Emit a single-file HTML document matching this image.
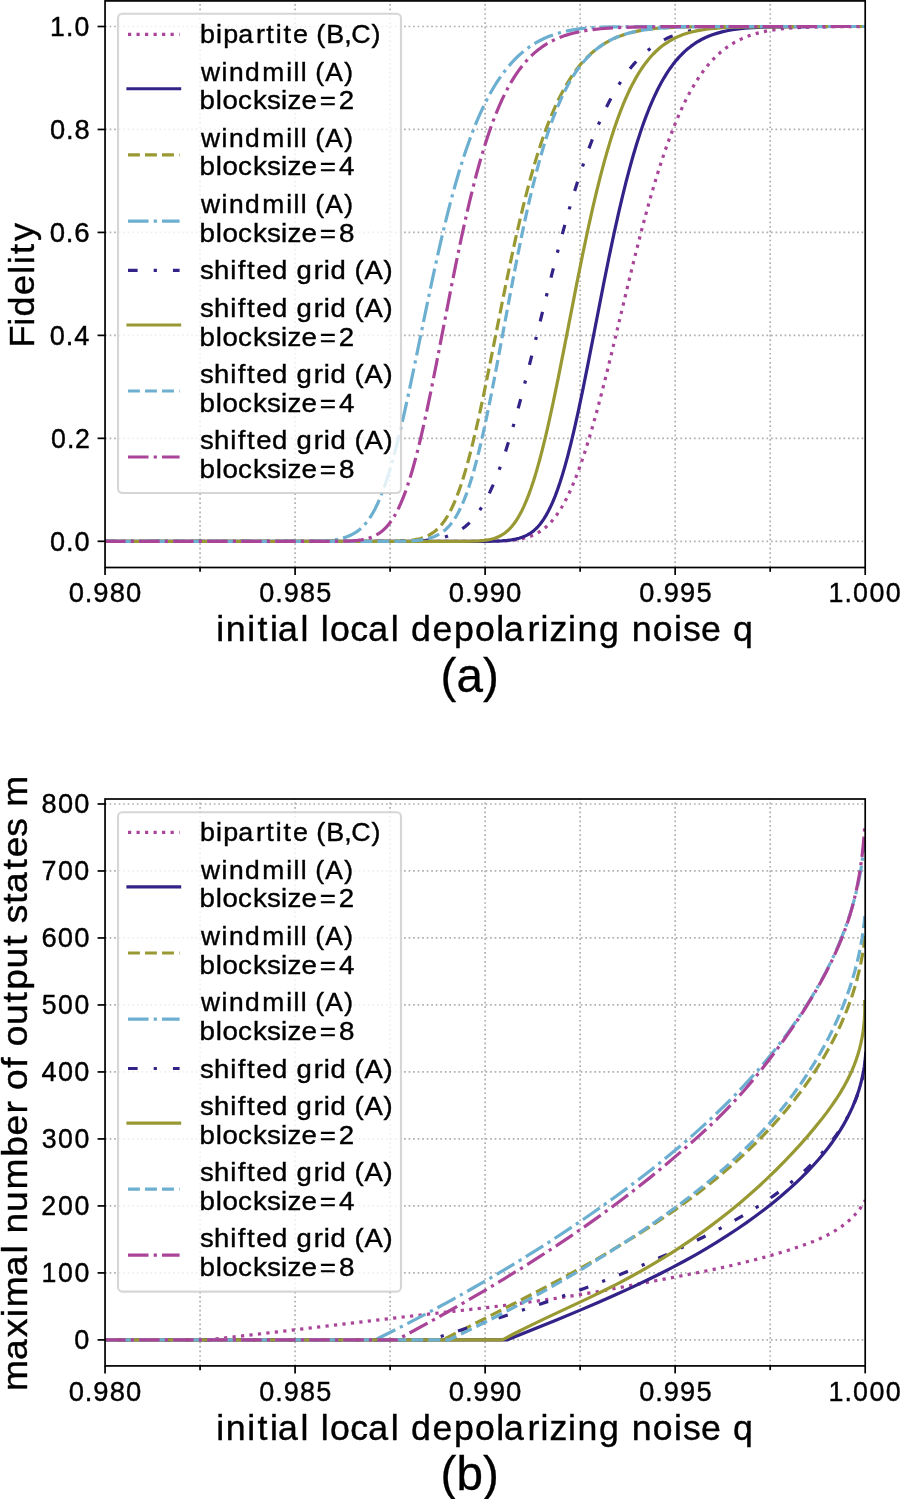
<!DOCTYPE html>
<html lang="en"><head><meta charset="utf-8"><title>Fidelity and output states vs noise</title>
<style>html,body{margin:0;padding:0;background:#fff}body{width:900px;height:1499px;overflow:hidden;font-family:"Liberation Sans",sans-serif}svg{display:block;will-change:transform}text{stroke:#000;stroke-width:0.4px}text.p{stroke-width:0.35px}</style>
</head><body>
<svg width="900" height="1499" viewBox="0 0 900 1499" font-family="'Liberation Sans', sans-serif">
<rect width="900" height="1499" fill="#fff"/>
<defs><clipPath id="ca"><rect x="105.05" y="0.90" width="760.15" height="566.60"/></clipPath><clipPath id="cb"><rect x="105.05" y="799.00" width="760.15" height="566.90"/></clipPath></defs>
<g stroke="#b0b0b0" stroke-width="1.71" stroke-dasharray="1.71 2.82" fill="none">
<path d="M200.07,567.50 V0.90"/>
<path d="M295.09,567.50 V0.90"/>
<path d="M390.11,567.50 V0.90"/>
<path d="M485.13,567.50 V0.90"/>
<path d="M580.14,567.50 V0.90"/>
<path d="M675.16,567.50 V0.90"/>
<path d="M770.18,567.50 V0.90"/>
<path d="M105.05,541.30 H865.20"/>
<path d="M105.05,438.34 H865.20"/>
<path d="M105.05,335.38 H865.20"/>
<path d="M105.05,232.42 H865.20"/>
<path d="M105.05,129.46 H865.20"/>
<path d="M105.05,26.50 H865.20"/>
</g>
<g clip-path="url(#ca)" fill="none" stroke-width="3.21" stroke-linejoin="round">
<path d="M105.05,541.30 L484.05,541.27 L496.55,541.12 L504.55,540.84 L510.55,540.42 L515.55,539.87 L520.05,539.15 L524.05,538.29 L527.55,537.31 L530.55,536.29 L533.55,535.06 L536.55,533.58 L539.05,532.14 L541.55,530.49 L544.05,528.62 L546.55,526.50 L549.05,524.11 L551.55,521.43 L554.05,518.45 L556.55,515.15 L559.05,511.51 L561.55,507.51 L564.05,503.16 L566.55,498.43 L569.05,493.32 L572.05,486.67 L575.05,479.47 L578.05,471.70 L581.05,463.38 L584.55,453.00 L588.05,441.91 L592.05,428.43 L596.05,414.17 L600.55,397.30 L606.05,375.71 L613.05,347.11 L630.05,276.20 L636.55,249.89 L642.05,228.45 L647.05,209.80 L651.55,193.78 L656.05,178.56 L660.05,165.75 L664.05,153.63 L668.05,142.22 L671.55,132.82 L675.05,123.97 L678.55,115.65 L682.05,107.87 L685.55,100.60 L689.05,93.83 L692.55,87.55 L696.05,81.73 L699.55,76.36 L703.05,71.42 L706.55,66.88 L710.05,62.71 L713.55,58.91 L717.05,55.45 L720.55,52.29 L724.05,49.43 L727.55,46.85 L731.05,44.51 L734.55,42.41 L738.55,40.27 L742.55,38.38 L746.55,36.72 L751.05,35.09 L755.55,33.70 L760.55,32.38 L766.05,31.19 L772.05,30.13 L778.55,29.23 L785.55,28.49 L793.55,27.88 L803.55,27.38 L816.55,26.99 L835.05,26.71 L865.05,26.55" stroke="#AA4499" stroke-dasharray="3.21 5.30"/>
<path d="M105.05,541.30 L483.05,541.27 L494.55,541.12 L501.55,540.84 L507.05,540.41 L511.55,539.84 L515.55,539.11 L519.05,538.25 L522.05,537.31 L524.55,536.33 L527.05,535.14 L529.55,533.71 L532.05,532.00 L534.05,530.40 L536.05,528.58 L538.05,526.52 L540.05,524.18 L542.05,521.56 L544.05,518.64 L546.05,515.39 L548.05,511.80 L550.05,507.85 L552.55,502.38 L555.05,496.32 L557.55,489.63 L560.05,482.33 L562.55,474.39 L565.05,465.85 L568.05,454.80 L571.05,442.93 L574.55,428.14 L578.55,410.11 L583.05,388.65 L588.55,361.19 L603.55,284.28 L609.05,257.03 L614.05,233.32 L618.55,213.05 L622.55,196.02 L626.05,181.91 L629.55,168.58 L633.05,156.05 L636.55,144.31 L640.05,133.37 L643.05,124.60 L646.05,116.40 L649.05,108.73 L652.05,101.59 L655.05,94.94 L658.05,88.78 L661.05,83.08 L664.05,77.81 L667.05,72.95 L670.05,68.48 L673.05,64.37 L676.05,60.61 L679.05,57.17 L682.05,54.02 L685.05,51.15 L688.05,48.55 L691.05,46.18 L694.55,43.69 L698.05,41.48 L701.55,39.51 L705.05,37.78 L709.05,36.04 L713.05,34.54 L717.55,33.10 L722.05,31.88 L727.05,30.77 L732.55,29.78 L738.55,28.93 L745.05,28.25 L753.05,27.66 L763.05,27.19 L776.55,26.85 L797.05,26.62 L842.55,26.51 L865.05,26.50" stroke="#332288" stroke-linecap="square"/>
<path d="M105.05,541.30 L388.05,541.27 L398.55,541.11 L405.05,540.83 L410.05,540.40 L414.05,539.86 L417.55,539.20 L420.55,538.44 L423.55,537.48 L426.05,536.50 L428.55,535.33 L431.05,533.94 L433.55,532.28 L435.55,530.73 L437.55,528.96 L439.55,526.94 L441.55,524.66 L443.55,522.09 L445.55,519.22 L447.55,516.01 L449.55,512.47 L451.55,508.56 L453.55,504.28 L456.05,498.38 L458.55,491.87 L461.05,484.73 L463.55,476.97 L466.05,468.60 L469.05,457.76 L472.05,446.11 L475.55,431.57 L479.55,413.87 L484.05,392.80 L490.05,363.40 L503.55,295.70 L509.55,266.60 L514.55,243.40 L519.05,223.55 L523.05,206.83 L527.05,191.02 L530.55,177.98 L534.05,165.68 L537.55,154.12 L541.05,143.30 L544.55,133.19 L548.05,123.78 L551.55,115.04 L554.55,108.07 L557.55,101.54 L560.55,95.45 L563.55,89.78 L566.55,84.49 L569.55,79.58 L572.55,75.02 L575.55,70.80 L578.55,66.89 L581.55,63.27 L585.05,59.40 L588.55,55.87 L592.05,52.67 L595.55,49.77 L599.05,47.14 L602.55,44.77 L606.05,42.63 L610.05,40.44 L614.05,38.51 L618.05,36.81 L622.55,35.14 L627.05,33.70 L632.05,32.34 L637.55,31.10 L643.05,30.09 L649.05,29.21 L655.55,28.47 L663.05,27.86 L672.55,27.35 L684.55,26.97 L702.05,26.70 L734.05,26.54 L865.05,26.50" stroke="#999933" stroke-dasharray="11.88 5.14"/>
<path d="M105.05,541.30 L305.55,541.27 L317.05,541.11 L324.05,540.84 L329.55,540.43 L334.05,539.89 L338.05,539.21 L341.55,538.42 L345.05,537.39 L348.05,536.30 L351.05,534.99 L354.05,533.42 L356.55,531.86 L359.05,530.01 L361.05,528.31 L363.05,526.37 L365.05,524.19 L367.05,521.75 L369.05,519.01 L371.05,515.97 L373.05,512.60 L375.05,508.90 L377.55,503.77 L380.05,498.06 L382.55,491.76 L385.05,484.86 L387.55,477.37 L390.05,469.28 L393.05,458.81 L396.05,447.57 L399.55,433.53 L403.55,416.43 L408.05,396.08 L414.05,367.67 L428.05,299.74 L434.05,271.59 L439.05,249.12 L443.55,229.88 L447.55,213.62 L451.55,198.23 L455.55,183.72 L459.05,171.76 L462.55,160.48 L466.05,149.88 L469.55,139.93 L473.05,130.62 L476.55,121.93 L480.05,113.83 L483.55,106.28 L487.05,99.28 L490.55,92.77 L494.05,86.75 L497.55,81.18 L501.05,76.03 L504.55,71.27 L508.05,66.89 L511.55,62.86 L515.05,59.16 L518.55,55.76 L522.05,52.65 L525.55,49.80 L529.05,47.20 L532.55,44.84 L536.55,42.40 L540.55,40.22 L544.55,38.28 L548.55,36.57 L553.05,34.87 L557.55,33.41 L562.55,32.03 L567.55,30.88 L573.05,29.84 L579.05,28.95 L585.05,28.27 L592.55,27.68 L601.55,27.22 L614.05,26.87 L633.05,26.63 L673.55,26.51 L865.05,26.50" stroke="#6CAFD0" stroke-dasharray="20.54 5.14 3.21 5.14"/>
<path d="M105.05,541.30 L396.55,541.27 L410.55,541.11 L419.05,540.82 L425.55,540.40 L431.05,539.84 L435.55,539.17 L439.55,538.40 L443.55,537.40 L447.05,536.33 L450.55,535.03 L454.05,533.49 L457.05,531.95 L460.05,530.20 L462.55,528.55 L465.05,526.69 L467.55,524.58 L470.05,522.22 L472.55,519.57 L475.05,516.62 L477.55,513.36 L480.05,509.75 L482.55,505.80 L485.05,501.47 L487.55,496.77 L490.05,491.69 L493.05,485.06 L496.05,477.87 L499.05,470.11 L502.05,461.79 L505.55,451.41 L509.05,440.33 L513.05,426.87 L517.55,410.83 L522.55,392.07 L528.55,368.55 L538.05,330.03 L549.05,285.30 L555.55,259.64 L561.05,238.70 L566.05,220.44 L570.55,204.71 L575.05,189.72 L579.55,175.49 L583.55,163.51 L587.55,152.16 L591.55,141.45 L595.55,131.37 L599.05,123.07 L602.55,115.23 L606.05,107.86 L609.55,100.94 L613.05,94.46 L616.55,88.40 L620.05,82.74 L623.55,77.48 L627.05,72.60 L630.55,68.08 L634.05,63.90 L637.55,60.05 L641.05,56.51 L644.55,53.26 L648.05,50.29 L651.55,47.58 L655.05,45.12 L658.55,42.89 L662.55,40.61 L666.55,38.58 L670.55,36.79 L674.55,35.22 L679.05,33.69 L683.55,32.39 L688.05,31.29 L693.05,30.31 L698.55,29.46 L705.05,28.69 L712.55,28.05 L722.05,27.50 L734.05,27.08 L750.55,26.77 L777.55,26.58 L858.05,26.50 L865.05,26.50" stroke="#332288" stroke-dasharray="9.63 16.05 3.21 16.05"/>
<path d="M105.05,541.30 L464.05,541.27 L473.55,541.12 L479.55,540.85 L484.05,540.45 L487.55,539.96 L491.05,539.26 L494.05,538.45 L496.55,537.59 L499.05,536.51 L501.55,535.20 L503.55,533.95 L505.55,532.49 L507.55,530.82 L509.55,528.91 L511.55,526.73 L513.55,524.28 L515.55,521.52 L517.55,518.44 L519.55,515.03 L521.55,511.27 L523.55,507.14 L526.05,501.46 L528.55,495.17 L531.05,488.27 L533.55,480.76 L536.05,472.64 L539.05,462.11 L542.05,450.76 L545.55,436.54 L549.05,421.37 L553.05,403.02 L558.05,378.87 L564.55,346.11 L577.05,282.16 L583.05,252.51 L588.05,228.89 L592.55,208.70 L596.55,191.71 L600.05,177.64 L603.55,164.34 L607.05,151.83 L610.55,140.13 L614.05,129.22 L617.05,120.49 L620.05,112.33 L623.05,104.72 L626.05,97.64 L629.05,91.07 L632.05,85.00 L635.05,79.39 L638.05,74.23 L641.05,69.49 L644.05,65.14 L647.05,61.17 L650.05,57.54 L653.05,54.25 L656.05,51.25 L659.05,48.53 L662.05,46.08 L665.05,43.86 L668.55,41.56 L672.05,39.52 L675.55,37.73 L679.05,36.16 L683.05,34.60 L687.05,33.27 L691.55,32.01 L696.55,30.85 L702.05,29.84 L708.05,28.97 L714.55,28.28 L722.05,27.71 L731.55,27.24 L744.55,26.88 L764.05,26.64 L804.05,26.52 L865.05,26.50" stroke="#999933" stroke-linecap="square"/>
<path d="M105.05,541.30 L395.05,541.27 L406.05,541.12 L412.55,540.84 L417.55,540.45 L421.55,539.95 L425.05,539.33 L428.55,538.51 L431.55,537.59 L434.55,536.45 L437.05,535.30 L439.55,533.95 L442.05,532.37 L444.05,530.88 L446.05,529.17 L448.05,527.22 L450.05,525.00 L452.05,522.49 L454.05,519.66 L456.05,516.50 L458.05,512.98 L460.05,509.07 L462.05,504.77 L464.05,500.05 L466.55,493.55 L469.05,486.37 L471.55,478.50 L474.05,469.94 L476.55,460.70 L479.55,448.75 L482.55,435.93 L486.05,419.95 L490.05,400.55 L495.05,374.98 L503.05,332.31 L511.55,286.87 L517.05,258.52 L521.55,236.36 L525.55,217.63 L529.55,199.92 L533.05,185.31 L536.55,171.56 L540.05,158.68 L543.55,146.67 L546.55,137.05 L549.55,128.05 L552.55,119.65 L555.55,111.81 L558.55,104.53 L561.55,97.78 L564.55,91.52 L567.55,85.74 L570.55,80.41 L573.55,75.49 L576.55,70.97 L579.55,66.81 L582.55,63.00 L585.55,59.51 L588.55,56.31 L591.55,53.39 L594.55,50.72 L598.05,47.91 L601.55,45.38 L605.05,43.12 L608.55,41.11 L612.55,39.06 L616.55,37.28 L620.55,35.72 L625.05,34.20 L629.55,32.90 L634.55,31.69 L640.05,30.59 L646.05,29.63 L652.55,28.81 L659.55,28.16 L668.05,27.61 L679.05,27.16 L694.05,26.82 L717.55,26.60 L773.55,26.51 L865.05,26.50" stroke="#6CAFD0" stroke-dasharray="11.88 5.14"/>
<path d="M105.05,541.30 L336.05,541.27 L346.05,541.12 L352.55,540.84 L357.55,540.41 L361.55,539.86 L365.05,539.17 L368.05,538.38 L371.05,537.38 L373.55,536.35 L376.05,535.11 L378.55,533.65 L380.55,532.28 L382.55,530.71 L384.55,528.91 L386.55,526.86 L388.55,524.55 L390.55,521.94 L392.55,519.03 L394.55,515.79 L396.55,512.20 L398.55,508.24 L400.55,503.91 L403.05,497.95 L405.55,491.36 L408.05,484.13 L410.55,476.27 L413.05,467.78 L416.05,456.78 L419.05,444.94 L422.55,430.14 L426.05,414.39 L430.55,392.99 L436.05,365.51 L451.05,288.26 L456.55,260.85 L461.05,239.35 L465.55,218.88 L469.55,201.66 L473.05,187.41 L476.55,173.96 L480.05,161.30 L483.55,149.46 L487.05,138.41 L490.05,129.57 L493.05,121.29 L496.05,113.56 L499.05,106.35 L502.05,99.64 L505.05,93.42 L508.05,87.65 L511.05,82.31 L514.05,77.39 L517.05,72.84 L520.05,68.66 L523.05,64.81 L526.05,61.28 L529.05,58.04 L532.05,55.08 L535.05,52.37 L538.55,49.50 L542.05,46.92 L545.55,44.60 L549.05,42.53 L553.05,40.42 L557.05,38.57 L561.05,36.94 L565.55,35.36 L570.05,33.99 L575.05,32.70 L580.55,31.52 L586.55,30.46 L593.05,29.55 L600.55,28.74 L609.05,28.07 L619.05,27.53 L632.05,27.10 L650.05,26.78 L679.05,26.58 L760.55,26.50 L865.05,26.50" stroke="#AA4499" stroke-dasharray="20.54 5.14 3.21 5.14"/>
</g>
<rect x="118.0" y="13.70" width="283.00" height="479.30" rx="4.4" fill="#fff" fill-opacity="0.8" stroke="#ccc" stroke-opacity="0.8" stroke-width="2.14"/>
<path d="M128.0,34.30 H179.6" stroke="#AA4499" stroke-width="3.21" fill="none" stroke-dasharray="3.21 5.30"/>
<text transform="translate(201.40,43.30) scale(1.0158,1)" x="-1.47 14.35 21.62 36.29 53.64 63.97 73.26 80.92 90.10 105.19 113.09 122.91 140.55 147.64 167.37" font-size="26.47" fill="#000">bipartite (B,C)</text>
<path d="M128.0,88.75 H179.6" stroke="#332288" stroke-width="3.21" fill="none" stroke-linecap="square"/>
<text transform="translate(201.00,80.70) scale(0.9982,1)" x="-0.12 20.62 27.98 44.09 61.37 85.52 92.66 99.81 106.33 114.46 124.53 143.45" font-size="26.47" fill="#000">windmill (A)</text>
<text transform="translate(201.30,109.30) scale(1.0450,1)" x="-1.64 13.85 20.38 35.10 49.45 62.98 76.32 82.62 95.83 113.28 131.44" font-size="26.47" fill="#000">blocksize=2</text>
<path d="M128.0,154.90 H179.6" stroke="#999933" stroke-width="3.21" fill="none" stroke-dasharray="11.88 5.14"/>
<text transform="translate(201.00,146.85) scale(0.9982,1)" x="-0.12 20.62 27.98 44.09 61.37 85.52 92.66 99.81 106.33 114.46 124.53 143.45" font-size="26.47" fill="#000">windmill (A)</text>
<text transform="translate(201.30,175.45) scale(1.0487,1)" x="-1.66 13.79 20.28 34.95 49.25 62.74 76.04 82.31 95.46 112.85 131.27" font-size="26.47" fill="#000">blocksize=4</text>
<path d="M128.0,221.10 H179.6" stroke="#6CAFD0" stroke-width="3.21" fill="none" stroke-dasharray="20.54 5.14 3.21 5.14"/>
<text transform="translate(201.00,213.05) scale(0.9982,1)" x="-0.12 20.62 27.98 44.09 61.37 85.52 92.66 99.81 106.33 114.46 124.53 143.45" font-size="26.47" fill="#000">windmill (A)</text>
<text transform="translate(201.30,241.65) scale(1.0502,1)" x="-1.67 13.77 20.24 34.90 49.17 62.64 75.93 82.19 95.32 112.69 131.08" font-size="26.47" fill="#000">blocksize=8</text>
<path d="M128.0,270.40 H179.6" stroke="#332288" stroke-width="3.21" fill="none" stroke-dasharray="9.63 16.05 3.21 16.05"/>
<text transform="translate(201.40,279.40) scale(1.0392,1)" x="-1.34 12.03 27.73 35.08 43.90 52.79 68.05 83.41 91.61 108.11 117.64 124.35 139.70 147.31 156.84 175.22" font-size="26.47" fill="#000">shifted grid (A)</text>
<path d="M128.0,325.00 H179.6" stroke="#999933" stroke-width="3.21" fill="none" stroke-linecap="square"/>
<text transform="translate(201.40,316.95) scale(1.0392,1)" x="-1.34 12.03 27.73 35.08 43.90 52.79 68.05 83.41 91.61 108.11 117.64 124.35 139.70 147.31 156.84 175.22" font-size="26.47" fill="#000">shifted grid (A)</text>
<text transform="translate(201.30,345.55) scale(1.0450,1)" x="-1.64 13.85 20.38 35.10 49.45 62.98 76.32 82.62 95.83 113.28 131.44" font-size="26.47" fill="#000">blocksize=2</text>
<path d="M128.0,391.00 H179.6" stroke="#6CAFD0" stroke-width="3.21" fill="none" stroke-dasharray="11.88 5.14"/>
<text transform="translate(201.40,382.95) scale(1.0392,1)" x="-1.34 12.03 27.73 35.08 43.90 52.79 68.05 83.41 91.61 108.11 117.64 124.35 139.70 147.31 156.84 175.22" font-size="26.47" fill="#000">shifted grid (A)</text>
<text transform="translate(201.30,411.55) scale(1.0487,1)" x="-1.66 13.79 20.28 34.95 49.25 62.74 76.04 82.31 95.46 112.85 131.27" font-size="26.47" fill="#000">blocksize=4</text>
<path d="M128.0,457.00 H179.6" stroke="#AA4499" stroke-width="3.21" fill="none" stroke-dasharray="20.54 5.14 3.21 5.14"/>
<text transform="translate(201.40,448.95) scale(1.0392,1)" x="-1.34 12.03 27.73 35.08 43.90 52.79 68.05 83.41 91.61 108.11 117.64 124.35 139.70 147.31 156.84 175.22" font-size="26.47" fill="#000">shifted grid (A)</text>
<text transform="translate(201.30,477.55) scale(1.0502,1)" x="-1.67 13.77 20.24 34.90 49.17 62.64 75.93 82.19 95.32 112.69 131.08" font-size="26.47" fill="#000">blocksize=8</text>
<g stroke="#000" stroke-width="1.71" fill="none">
<path d="M105.05,567.50 v7.49"/>
<path d="M200.07,567.50 v4.28"/>
<path d="M295.09,567.50 v7.49"/>
<path d="M390.11,567.50 v4.28"/>
<path d="M485.13,567.50 v7.49"/>
<path d="M580.14,567.50 v4.28"/>
<path d="M675.16,567.50 v7.49"/>
<path d="M770.18,567.50 v4.28"/>
<path d="M865.20,567.50 v7.49"/>
<path d="M105.05,541.30 h-7.49"/>
<path d="M105.05,438.34 h-7.49"/>
<path d="M105.05,335.38 h-7.49"/>
<path d="M105.05,232.42 h-7.49"/>
<path d="M105.05,129.46 h-7.49"/>
<path d="M105.05,26.50 h-7.49"/>
<rect x="105.05" y="0.90" width="760.15" height="566.60" stroke-linejoin="miter"/>
</g>
<text transform="translate(51.03,550.80) scale(0.9829,1)" x="-1.09 15.22 23.85" font-size="27.63" fill="#000">0.0</text>
<text transform="translate(51.90,447.84) scale(0.9673,1)" x="-0.99 15.52 24.01" font-size="27.63" fill="#000">0.2</text>
<text transform="translate(50.77,344.88) scale(0.9829,1)" x="-1.09 15.22 23.85" font-size="27.63" fill="#000">0.4</text>
<text transform="translate(50.94,241.92) scale(0.9983,1)" x="-1.20 14.92 23.37" font-size="27.63" fill="#000">0.6</text>
<text transform="translate(51.08,138.96) scale(0.9877,1)" x="-1.13 15.12 23.70" font-size="27.63" fill="#000">0.8</text>
<text transform="translate(52.16,36.00) scale(0.9641,1)" x="-2.27 14.42 23.29" font-size="27.63" fill="#000">1.0</text>
<text transform="translate(69.96,602.20) scale(0.9919,1)" x="-1.15 15.04 23.49 40.05 56.54" font-size="27.63" fill="#000">0.980</text>
<text transform="translate(260.27,602.20) scale(0.9787,1)" x="-1.07 15.30 23.91 40.70 57.30" font-size="27.63" fill="#000">0.985</text>
<text transform="translate(450.04,602.20) scale(0.9969,1)" x="-1.19 14.95 23.33 39.73 56.21" font-size="27.63" fill="#000">0.990</text>
<text transform="translate(640.35,602.20) scale(0.9837,1)" x="-1.10 15.20 23.74 40.37 56.97" font-size="27.63" fill="#000">0.995</text>
<text transform="translate(830.68,602.20) scale(0.9722,1)" x="-2.32 14.27 23.04 39.86 56.68" font-size="27.63" fill="#000">1.000</text>
<text transform="translate(34.20,342.82) rotate(-90) scale(1.0251,1)" x="-4.50 16.61 25.70 46.76 67.41 76.67 86.73 99.28" font-size="35.12">Fidelity</text>
<text transform="translate(218.58,641.40) scale(1.0166,1)" x="-2.39 7.09 28.19 38.35 50.66 58.46 80.52 89.08 100.50 109.57 129.63 147.28 169.34 177.90 189.24 210.48 231.58 252.29 273.07 280.88 303.88 316.75 325.48 343.67 353.15 374.15 394.77 406.37 427.19 447.99 456.73 474.63 494.65 505.98" font-size="35.12" fill="#000">initial local depolarizing noise q</text>
<text class="p" x="469.7" y="691.7" font-size="47.6" text-anchor="middle">(a)</text>
<g stroke="#b0b0b0" stroke-width="1.71" stroke-dasharray="1.71 2.82" fill="none">
<path d="M200.07,1365.90 V799.00"/>
<path d="M295.09,1365.90 V799.00"/>
<path d="M390.11,1365.90 V799.00"/>
<path d="M485.13,1365.90 V799.00"/>
<path d="M580.14,1365.90 V799.00"/>
<path d="M675.16,1365.90 V799.00"/>
<path d="M770.18,1365.90 V799.00"/>
<path d="M105.05,1339.90 H865.20"/>
<path d="M105.05,1272.91 H865.20"/>
<path d="M105.05,1205.92 H865.20"/>
<path d="M105.05,1138.93 H865.20"/>
<path d="M105.05,1071.94 H865.20"/>
<path d="M105.05,1004.95 H865.20"/>
<path d="M105.05,937.96 H865.20"/>
<path d="M105.05,870.97 H865.20"/>
<path d="M105.05,803.98 H865.20"/>
</g>
<g clip-path="url(#cb)" fill="none" stroke-width="3.21" stroke-linejoin="round">
<path d="M105.05,1339.90 L207.99,1339.90 L208.55,1339.71 L251.52,1334.89 L312.00,1327.80 L402.98,1317.03 L449.90,1311.68 L488.90,1307.34 L505.83,1305.26 L534.55,1301.36 L560.44,1297.70 L577.29,1295.11 L592.99,1292.46 L613.13,1288.79 L685.16,1275.15 L705.77,1271.04 L722.44,1267.50 L737.40,1264.09 L751.22,1260.71 L763.90,1257.38 L775.99,1253.97 L787.48,1250.48 L798.40,1246.92 L806.53,1244.06 L813.48,1241.39 L819.26,1238.96 L824.41,1236.58 L829.44,1234.01 L833.85,1231.53 L838.13,1228.87 L841.82,1226.33 L845.38,1223.63 L848.81,1220.75 L851.69,1218.08 L854.46,1215.25 L857.10,1212.26 L859.62,1209.10 L861.99,1205.76 L864.22,1202.24 L865.43,1200.15" stroke="#AA4499" stroke-dasharray="3.21 5.30"/>
<path d="M105.05,1339.90 L507.07,1339.90 L507.44,1339.82 L555.30,1320.44 L579.05,1310.62 L598.64,1302.27 L615.56,1294.82 L631.28,1287.66 L645.80,1280.78 L659.13,1274.22 L671.99,1267.64 L684.03,1261.21 L695.60,1254.78 L706.70,1248.33 L717.35,1241.88 L727.53,1235.43 L737.26,1229.00 L746.55,1222.60 L755.71,1215.99 L764.43,1209.42 L773.03,1202.65 L780.87,1196.20 L788.26,1189.82 L795.18,1183.55 L801.65,1177.39 L807.65,1171.37 L813.19,1165.50 L818.55,1159.49 L823.46,1153.66 L828.17,1147.70 L832.44,1141.93 L836.51,1136.05 L840.17,1130.38 L843.62,1124.60 L846.87,1118.71 L849.73,1113.07 L852.39,1107.33 L854.83,1101.48 L856.93,1095.90 L858.83,1090.23 L860.52,1084.47 L862.00,1078.61 L863.26,1072.66 L864.24,1067.01 L865.01,1061.28 L865.57,1055.46 L865.72,1053.36" stroke="#332288" stroke-linecap="square"/>
<path d="M105.05,1339.90 L442.59,1339.90 L443.03,1339.78 L491.03,1315.31 L522.83,1299.01 L546.05,1286.87 L565.59,1276.41 L582.77,1266.96 L598.51,1258.06 L613.23,1249.48 L626.95,1241.23 L640.09,1233.05 L652.65,1224.97 L664.64,1216.97 L676.06,1209.08 L686.90,1201.29 L697.18,1193.64 L706.90,1186.12 L716.46,1178.42 L725.48,1170.88 L734.34,1163.17 L742.66,1155.63 L750.82,1147.92 L758.46,1140.40 L765.94,1132.71 L773.26,1124.86 L780.07,1117.23 L786.71,1109.45 L793.17,1101.51 L799.13,1093.83 L804.91,1086.02 L810.50,1078.07 L815.60,1070.42 L820.52,1062.66 L825.23,1054.77 L829.49,1047.22 L833.55,1039.57 L837.42,1031.81 L841.07,1023.95 L844.32,1016.46 L847.36,1008.89 L850.21,1001.22 L852.84,993.47 L855.26,985.63 L857.45,977.71 L859.30,970.20 L860.95,962.62 L862.39,954.96 L863.61,947.23 L864.61,939.43 L865.33,932.08" stroke="#999933" stroke-dasharray="11.88 5.14"/>
<path d="M105.05,1339.90 L375.78,1339.90 L376.33,1339.30 L396.01,1329.43 L415.01,1319.64 L433.87,1309.67 L452.06,1299.79 L469.59,1290.01 L486.99,1280.04 L503.75,1270.17 L520.38,1260.11 L536.38,1250.17 L552.27,1240.02 L568.03,1229.68 L583.17,1219.46 L598.20,1209.04 L612.63,1198.77 L626.44,1188.66 L639.64,1178.72 L652.22,1168.97 L664.18,1159.41 L675.51,1150.07 L686.23,1140.95 L696.79,1131.66 L706.73,1122.62 L716.50,1113.42 L725.67,1104.48 L734.67,1095.39 L743.06,1086.58 L751.29,1077.61 L758.94,1068.96 L766.42,1060.17 L773.72,1051.23 L780.83,1042.14 L787.39,1033.39 L793.78,1024.51 L799.97,1015.48 L805.64,1006.84 L811.12,998.07 L816.39,989.18 L821.16,980.71 L825.74,972.14 L830.11,963.46 L834.01,955.23 L837.72,946.92 L841.22,938.52 L844.52,930.03 L847.59,921.46 L850.26,913.38 L852.72,905.24 L854.98,897.02 L857.03,888.72 L858.85,880.36 L860.45,871.93 L861.72,864.04 L862.80,856.10 L863.66,848.09 L864.30,840.02 L864.46,837.53" stroke="#6CAFD0" stroke-dasharray="20.54 5.14 3.21 5.14"/>
<path d="M105.05,1339.90 L430.20,1339.90 L430.63,1339.58 L473.49,1326.09 L502.53,1316.73 L527.07,1308.58 L548.90,1301.10 L568.91,1294.00 L587.56,1287.14 L604.86,1280.53 L621.24,1274.03 L637.15,1267.48 L652.57,1260.87 L667.11,1254.39 L681.18,1247.87 L695.21,1241.12 L708.36,1234.54 L720.21,1228.36 L730.73,1222.63 L740.72,1216.92 L749.79,1211.49 L758.33,1206.13 L766.34,1200.84 L773.82,1195.64 L781.15,1190.28 L787.95,1185.02 L794.58,1179.60 L800.70,1174.30 L806.65,1168.85 L812.11,1163.55 L817.39,1158.09 L822.19,1152.81 L826.83,1147.39 L831.01,1142.17 L835.02,1136.82 L838.85,1131.34 L842.24,1126.09 L845.45,1120.73 L848.48,1115.24 L851.31,1109.62 L853.75,1104.29 L856.00,1098.85 L858.05,1093.30 L859.91,1087.62 L861.55,1081.83 L862.87,1076.38 L864.01,1070.83 L864.94,1065.17 L865.67,1059.41 L865.87,1057.46" stroke="#332288" stroke-dasharray="9.63 14.9 3.21 14.9" stroke-dashoffset="29.4"/>
<path d="M105.05,1339.90 L502.06,1339.90 L502.45,1339.84 L513.99,1333.79 L527.19,1327.17 L543.21,1319.42 L589.51,1297.58 L605.12,1290.01 L617.89,1283.57 L629.40,1277.51 L640.43,1271.45 L651.34,1265.19 L662.14,1258.72 L672.81,1252.05 L683.00,1245.41 L693.06,1238.59 L702.99,1231.58 L712.79,1224.38 L722.45,1216.99 L731.97,1209.42 L741.34,1201.67 L750.22,1194.01 L758.96,1186.19 L767.55,1178.19 L775.98,1170.02 L784.26,1161.69 L792.36,1153.18 L800.00,1144.83 L807.49,1136.32 L814.80,1127.66 L821.11,1119.86 L826.69,1112.61 L831.54,1105.93 L835.94,1099.50 L839.90,1093.32 L843.42,1087.41 L846.52,1081.77 L849.42,1076.03 L851.93,1070.59 L854.23,1065.05 L856.17,1059.83 L857.91,1054.52 L859.46,1049.14 L860.81,1043.68 L862.04,1037.73 L863.05,1031.70 L863.83,1025.61 L864.37,1019.45 L864.69,1013.24 L864.78,1006.97 L864.67,1001.56" stroke="#999933" stroke-linecap="square"/>
<path d="M105.05,1339.90 L449.37,1339.90 L449.84,1339.42 L468.70,1330.34 L486.95,1321.30 L504.13,1312.53 L520.72,1303.80 L536.74,1295.11 L552.18,1286.47 L567.97,1277.36 L583.65,1268.04 L599.68,1258.24 L615.62,1248.23 L630.57,1238.57 L644.09,1229.57 L657.05,1220.67 L669.01,1212.18 L680.40,1203.81 L691.22,1195.58 L701.47,1187.48 L711.16,1179.54 L720.29,1171.77 L729.26,1163.82 L737.67,1156.06 L745.55,1148.50 L753.27,1140.77 L760.82,1132.89 L767.85,1125.22 L774.71,1117.40 L781.06,1109.82 L787.25,1102.08 L793.27,1094.20 L799.10,1086.17 L804.75,1077.99 L809.92,1070.12 L814.91,1062.14 L819.71,1054.03 L824.32,1045.82 L828.72,1037.50 L832.91,1029.07 L836.67,1021.03 L840.23,1012.90 L843.58,1004.68 L846.73,996.39 L849.66,988.03 L852.36,979.59 L854.84,971.08 L856.95,963.02 L858.86,954.90 L860.55,946.73 L862.01,938.51 L863.25,930.24 L864.26,921.93 L864.99,914.11 L865.23,910.97" stroke="#6CAFD0" stroke-dasharray="11.88 5.14"/>
<path d="M105.05,1339.90 L396.98,1339.90 L425.76,1324.15 L447.48,1312.00 L467.50,1300.55 L486.35,1289.51 L504.56,1278.58 L521.62,1268.09 L538.03,1257.72 L553.81,1247.48 L568.96,1237.38 L583.47,1227.43 L597.35,1217.64 L611.09,1207.66 L623.71,1198.22 L636.20,1188.58 L649.03,1178.38 L662.19,1167.61 L676.14,1155.88 L688.56,1145.17 L699.00,1135.89 L708.39,1127.26 L716.72,1119.31 L724.47,1111.63 L731.62,1104.24 L738.61,1096.69 L745.43,1088.98 L752.47,1080.66 L760.12,1071.26 L767.97,1061.22 L776.40,1050.08 L784.28,1039.27 L791.63,1028.82 L798.45,1018.74 L804.74,1009.04 L810.84,999.22 L816.42,989.80 L821.49,980.81 L826.08,972.24 L830.46,963.58 L834.36,955.38 L838.06,947.09 L841.32,939.27 L844.37,931.38 L847.21,923.40 L849.64,915.93 L851.88,908.38 L853.90,900.76 L855.87,892.49 L857.61,884.16 L859.26,875.18 L860.68,866.15 L861.98,856.50 L863.12,846.21 L864.09,835.32 L864.85,824.45" stroke="#AA4499" stroke-dasharray="20.54 5.14 3.21 5.14"/>
</g>
<rect x="118.0" y="812.30" width="283.00" height="479.30" rx="4.4" fill="#fff" fill-opacity="0.8" stroke="#ccc" stroke-opacity="0.8" stroke-width="2.14"/>
<path d="M128.0,832.40 H179.6" stroke="#AA4499" stroke-width="3.21" fill="none" stroke-dasharray="3.21 5.30"/>
<text transform="translate(201.40,841.40) scale(1.0158,1)" x="-1.47 14.35 21.62 36.29 53.64 63.97 73.26 80.92 90.10 105.19 113.09 122.91 140.55 147.64 167.37" font-size="26.47" fill="#000">bipartite (B,C)</text>
<path d="M128.0,886.85 H179.6" stroke="#332288" stroke-width="3.21" fill="none" stroke-linecap="square"/>
<text transform="translate(201.00,878.80) scale(0.9982,1)" x="-0.12 20.62 27.98 44.09 61.37 85.52 92.66 99.81 106.33 114.46 124.53 143.45" font-size="26.47" fill="#000">windmill (A)</text>
<text transform="translate(201.30,907.40) scale(1.0450,1)" x="-1.64 13.85 20.38 35.10 49.45 62.98 76.32 82.62 95.83 113.28 131.44" font-size="26.47" fill="#000">blocksize=2</text>
<path d="M128.0,953.00 H179.6" stroke="#999933" stroke-width="3.21" fill="none" stroke-dasharray="11.88 5.14"/>
<text transform="translate(201.00,944.95) scale(0.9982,1)" x="-0.12 20.62 27.98 44.09 61.37 85.52 92.66 99.81 106.33 114.46 124.53 143.45" font-size="26.47" fill="#000">windmill (A)</text>
<text transform="translate(201.30,973.55) scale(1.0487,1)" x="-1.66 13.79 20.28 34.95 49.25 62.74 76.04 82.31 95.46 112.85 131.27" font-size="26.47" fill="#000">blocksize=4</text>
<path d="M128.0,1019.20 H179.6" stroke="#6CAFD0" stroke-width="3.21" fill="none" stroke-dasharray="20.54 5.14 3.21 5.14"/>
<text transform="translate(201.00,1011.15) scale(0.9982,1)" x="-0.12 20.62 27.98 44.09 61.37 85.52 92.66 99.81 106.33 114.46 124.53 143.45" font-size="26.47" fill="#000">windmill (A)</text>
<text transform="translate(201.30,1039.75) scale(1.0502,1)" x="-1.67 13.77 20.24 34.90 49.17 62.64 75.93 82.19 95.32 112.69 131.08" font-size="26.47" fill="#000">blocksize=8</text>
<path d="M128.0,1068.50 H179.6" stroke="#332288" stroke-width="3.21" fill="none" stroke-dasharray="9.63 16.05 3.21 16.05"/>
<text transform="translate(201.40,1077.50) scale(1.0392,1)" x="-1.34 12.03 27.73 35.08 43.90 52.79 68.05 83.41 91.61 108.11 117.64 124.35 139.70 147.31 156.84 175.22" font-size="26.47" fill="#000">shifted grid (A)</text>
<path d="M128.0,1123.10 H179.6" stroke="#999933" stroke-width="3.21" fill="none" stroke-linecap="square"/>
<text transform="translate(201.40,1115.05) scale(1.0392,1)" x="-1.34 12.03 27.73 35.08 43.90 52.79 68.05 83.41 91.61 108.11 117.64 124.35 139.70 147.31 156.84 175.22" font-size="26.47" fill="#000">shifted grid (A)</text>
<text transform="translate(201.30,1143.65) scale(1.0450,1)" x="-1.64 13.85 20.38 35.10 49.45 62.98 76.32 82.62 95.83 113.28 131.44" font-size="26.47" fill="#000">blocksize=2</text>
<path d="M128.0,1189.10 H179.6" stroke="#6CAFD0" stroke-width="3.21" fill="none" stroke-dasharray="11.88 5.14"/>
<text transform="translate(201.40,1181.05) scale(1.0392,1)" x="-1.34 12.03 27.73 35.08 43.90 52.79 68.05 83.41 91.61 108.11 117.64 124.35 139.70 147.31 156.84 175.22" font-size="26.47" fill="#000">shifted grid (A)</text>
<text transform="translate(201.30,1209.65) scale(1.0487,1)" x="-1.66 13.79 20.28 34.95 49.25 62.74 76.04 82.31 95.46 112.85 131.27" font-size="26.47" fill="#000">blocksize=4</text>
<path d="M128.0,1255.10 H179.6" stroke="#AA4499" stroke-width="3.21" fill="none" stroke-dasharray="20.54 5.14 3.21 5.14"/>
<text transform="translate(201.40,1247.05) scale(1.0392,1)" x="-1.34 12.03 27.73 35.08 43.90 52.79 68.05 83.41 91.61 108.11 117.64 124.35 139.70 147.31 156.84 175.22" font-size="26.47" fill="#000">shifted grid (A)</text>
<text transform="translate(201.30,1275.65) scale(1.0502,1)" x="-1.67 13.77 20.24 34.90 49.17 62.64 75.93 82.19 95.32 112.69 131.08" font-size="26.47" fill="#000">blocksize=8</text>
<g stroke="#000" stroke-width="1.71" fill="none">
<path d="M105.05,1365.90 v7.49"/>
<path d="M200.07,1365.90 v4.28"/>
<path d="M295.09,1365.90 v7.49"/>
<path d="M390.11,1365.90 v4.28"/>
<path d="M485.13,1365.90 v7.49"/>
<path d="M580.14,1365.90 v4.28"/>
<path d="M675.16,1365.90 v7.49"/>
<path d="M770.18,1365.90 v4.28"/>
<path d="M865.20,1365.90 v7.49"/>
<path d="M105.05,1339.90 h-7.49"/>
<path d="M105.05,1272.91 h-7.49"/>
<path d="M105.05,1205.92 h-7.49"/>
<path d="M105.05,1138.93 h-7.49"/>
<path d="M105.05,1071.94 h-7.49"/>
<path d="M105.05,1004.95 h-7.49"/>
<path d="M105.05,937.96 h-7.49"/>
<path d="M105.05,870.97 h-7.49"/>
<path d="M105.05,803.98 h-7.49"/>
<rect x="105.05" y="799.00" width="760.15" height="566.90" stroke-linejoin="miter"/>
</g>
<text transform="translate(75.35,1349.40) scale(0.9806,1)" x="-1.08" font-size="27.63" fill="#000">0</text>
<text transform="translate(43.78,1282.41) scale(0.9669,1)" x="-2.29 14.76 31.67" font-size="27.63" fill="#000">100</text>
<text transform="translate(42.84,1215.42) scale(0.9692,1)" x="-1.55 15.68 32.55" font-size="27.63" fill="#000">200</text>
<text transform="translate(42.91,1148.43) scale(0.9677,1)" x="-1.23 15.63 32.53" font-size="27.63" fill="#000">300</text>
<text transform="translate(42.21,1081.44) scale(0.9806,1)" x="-0.63 16.04 32.72" font-size="27.63" fill="#000">400</text>
<text transform="translate(42.94,1014.45) scale(0.9623,1)" x="-1.36 15.74 32.73" font-size="27.63" fill="#000">500</text>
<text transform="translate(42.75,947.46) scale(0.9918,1)" x="-1.25 15.23 31.72" font-size="27.63" fill="#000">600</text>
<text transform="translate(43.06,880.47) scale(0.9737,1)" x="-1.51 15.33 32.13" font-size="27.63" fill="#000">700</text>
<text transform="translate(42.70,813.48) scale(0.9841,1)" x="-1.15 15.46 32.08" font-size="27.63" fill="#000">800</text>
<text transform="translate(69.96,1400.60) scale(0.9919,1)" x="-1.15 15.04 23.49 40.05 56.54" font-size="27.63" fill="#000">0.980</text>
<text transform="translate(260.27,1400.60) scale(0.9787,1)" x="-1.07 15.30 23.91 40.70 57.30" font-size="27.63" fill="#000">0.985</text>
<text transform="translate(450.04,1400.60) scale(0.9969,1)" x="-1.19 14.95 23.33 39.73 56.21" font-size="27.63" fill="#000">0.990</text>
<text transform="translate(640.35,1400.60) scale(0.9837,1)" x="-1.10 15.20 23.74 40.37 56.97" font-size="27.63" fill="#000">0.995</text>
<text transform="translate(830.68,1400.60) scale(0.9722,1)" x="-2.32 14.27 23.04 39.86 56.68" font-size="27.63" fill="#000">1.000</text>
<text transform="translate(26.70,1388.98) rotate(-90) scale(1.0606,1)" x="-1.80 27.24 48.76 67.71 77.17 106.22 127.64 136.01 146.72 166.96 188.10 218.93 238.90 259.84 271.71 282.00 302.78 312.92 323.21 343.16 364.52 376.41 396.55 417.91 429.18 439.23 457.48 467.60 489.79 501.25 520.67 537.59 548.93" font-size="35.12">maximal number of output states m</text>
<text transform="translate(218.58,1439.80) scale(1.0166,1)" x="-2.39 7.09 28.19 38.35 50.66 58.46 80.52 89.08 100.50 109.57 129.63 147.28 169.34 177.90 189.24 210.48 231.58 252.29 273.07 280.88 303.88 316.75 325.48 343.67 353.15 374.15 394.77 406.37 427.19 447.99 456.73 474.63 494.65 505.98" font-size="35.12" fill="#000">initial local depolarizing noise q</text>
<text class="p" x="469.7" y="1489.9" font-size="47.6" text-anchor="middle">(b)</text>
</svg>
</body></html>
